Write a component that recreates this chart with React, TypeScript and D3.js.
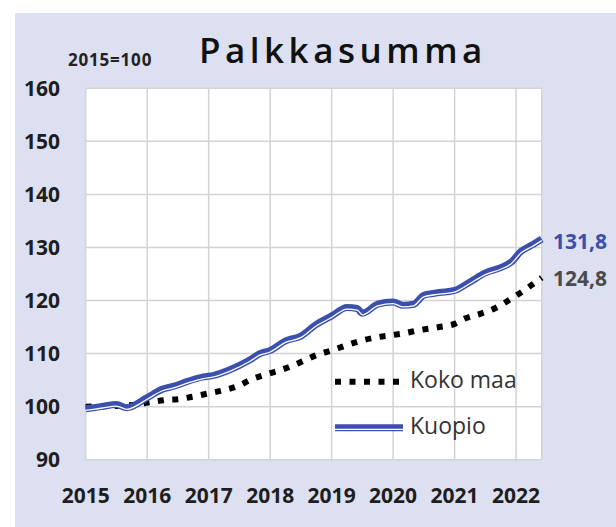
import React, { useEffect, useRef } from 'react';
import * as d3 from 'd3';

// kuukausia tammikuusta 2015 lähtien
const kuopioMonths = [0, 3, 6, 8, 12, 15, 17, 20, 23, 25, 28, 32, 34, 36, 39, 42, 45, 48, 51, 53, 54, 57, 60, 62, 64, 66, 69, 72, 75, 78, 81, 83, 85, 87, 89];
const kuopioValues = [99.6, 100.0, 100.4, 99.8, 101.7, 103.3, 103.8, 104.8, 105.6, 105.9, 106.9, 108.8, 110.0, 110.6, 112.4, 113.3, 115.5, 117.1, 118.7, 118.5, 117.6, 119.3, 119.7, 119.1, 119.3, 121.0, 121.5, 121.9, 123.5, 125.2, 126.2, 127.2, 129.3, 130.4, 131.6];

const kokoMonths = [0, 9, 13, 16, 18, 21, 24, 27, 30, 32, 36, 39, 42, 45, 48, 51, 54, 57, 60, 62, 65, 69, 72, 74, 77, 80, 83, 86, 89];
const kokoValues = [100.0, 100.3, 100.9, 101.3, 101.4, 101.9, 102.5, 103.1, 104.0, 105.0, 106.3, 107.2, 108.4, 109.7, 110.6, 111.6, 112.5, 113.1, 113.5, 113.8, 114.4, 115.0, 115.6, 116.6, 117.5, 118.6, 120.3, 122.2, 124.3];

const years = ['2015', '2016', '2017', '2018', '2019', '2020', '2021', '2022'];
const yTicks = [90, 100, 110, 120, 130, 140, 150, 160];

const FONT = "'Open Sans', sans-serif";
const BLUE = '#3a4fae';

const App = () => {
  const ref = useRef<SVGSVGElement>(null);

  useEffect(() => {
    const svg = d3.select(ref.current);
    svg.selectAll('*').remove();

    const x = d3.scaleLinear().domain([0, 89]).range([85.7, 541.7]);
    const y = d3.scaleLinear().domain([90, 160]).range([459.7, 88.3]);

    svg.append('rect').attr('x', 15).attr('y', 13).attr('width', 601).attr('height', 514).attr('fill', '#dde0f1');

    // piirtoalue
    svg.append('rect')
      .attr('x', x(0)).attr('y', y(160))
      .attr('width', x(89) - x(0)).attr('height', y(90) - y(160))
      .attr('fill', '#fff');

    const grid = svg.append('g').attr('stroke', '#d3d3d3').attr('stroke-width', 1.5);
    grid.selectAll('.h').data(yTicks).enter().append('line')
      .attr('x1', x(0)).attr('x2', x(89))
      .attr('y1', d => y(d)).attr('y2', d => y(d));
    grid.selectAll('.v').data([...years.map((_, i) => i * 12), 89]).enter().append('line')
      .attr('x1', d => x(d)).attr('x2', d => x(d))
      .attr('y1', y(160)).attr('y2', y(90));

    // akselien tekstit
    svg.append('g').selectAll('text').data(yTicks).enter().append('text')
      .attr('x', 60).attr('y', d => y(d) + 2)
      .attr('text-anchor', 'end').attr('dominant-baseline', 'middle')
      .style('font-family', FONT).style('font-size', '21px').style('font-weight', 700)
      .attr('fill', '#1e1e1e')
      .text(d => d);

    svg.append('g').selectAll('text').data(years).enter().append('text')
      .attr('x', (d, i) => x(i * 12)).attr('y', 497)
      .attr('text-anchor', 'middle').attr('dominant-baseline', 'middle')
      .style('font-family', FONT).style('font-size', '21px').style('font-weight', 700)
      .attr('fill', '#1e1e1e')
      .text(d => d);

    // otsikko
    svg.append('text')
      .attr('x', 199).attr('y', 63)
      .style('font-family', FONT).style('font-size', '35px').style('font-weight', 600)
      .style('letter-spacing', '4.5px')
      .attr('fill', '#111')
      .text('Palkkasumma');

    svg.append('text')
      .attr('x', 68).attr('y', 66)
      .style('font-family', FONT).style('font-size', '17px').style('font-weight', 700)
      .style('letter-spacing', '0.8px')
      .attr('fill', '#222')
      .text('2015=100');

    const line = d3.line<[number, number]>()
      .x(d => x(d[0])).y(d => y(d[1]))
      .curve(d3.curveMonotoneX);

    const koko: [number, number][] = kokoMonths.map((m, i) => [m, kokoValues[i]]);
    const kuopio: [number, number][] = kuopioMonths.map((m, i) => [m, kuopioValues[i]]);

    svg.append('path').attr('d', line(koko))
      .attr('fill', 'none').attr('stroke', '#000')
      .attr('stroke-width', 6).attr('stroke-dasharray', '6 8.5');

    svg.append('path').attr('d', line(kuopio))
      .attr('fill', 'none').attr('stroke', BLUE).attr('stroke-width', 7);
    svg.append('path').attr('d', line(kuopio))
      .attr('transform', 'translate(0,1.6)')
      .attr('fill', 'none').attr('stroke', '#fff').attr('stroke-width', 1.3);

    // loppuarvot
    svg.append('text')
      .attr('x', 553).attr('y', 243)
      .attr('dominant-baseline', 'middle')
      .style('font-family', FONT).style('font-size', '21px').style('font-weight', 700)
      .attr('fill', BLUE)
      .text('131,8');
    svg.append('text')
      .attr('x', 553).attr('y', 280)
      .attr('dominant-baseline', 'middle')
      .style('font-family', FONT).style('font-size', '21px').style('font-weight', 700)
      .attr('fill', '#4a4a4a')
      .text('124,8');

    // selite
    const legend = svg.append('g');
    legend.append('line')
      .attr('x1', 335).attr('x2', 402).attr('y1', 381.7).attr('y2', 381.7)
      .attr('stroke', '#000').attr('stroke-width', 6).attr('stroke-dasharray', '6 8.5');
    legend.append('line')
      .attr('x1', 335).attr('x2', 403).attr('y1', 427.7).attr('y2', 427.7)
      .attr('stroke', BLUE).attr('stroke-width', 7);
    legend.append('line')
      .attr('x1', 335).attr('x2', 403).attr('y1', 429.3).attr('y2', 429.3)
      .attr('stroke', '#fff').attr('stroke-width', 1.3);
    legend.selectAll('text').data(['Koko maa', 'Kuopio']).enter().append('text')
      .attr('x', 410).attr('y', (d, i) => 381.7 + i * 46)
      .attr('dominant-baseline', 'middle')
      .style('font-family', FONT).style('font-size', '23px')
      .attr('fill', '#333')
      .text(d => d);
  }, []);

  return (
    <div style={{ position: 'absolute', left: 0, top: 0 }}>
      <svg ref={ref} width={616} height={527} style={{ display: 'block' }} />
    </div>
  );
};

export default App;
